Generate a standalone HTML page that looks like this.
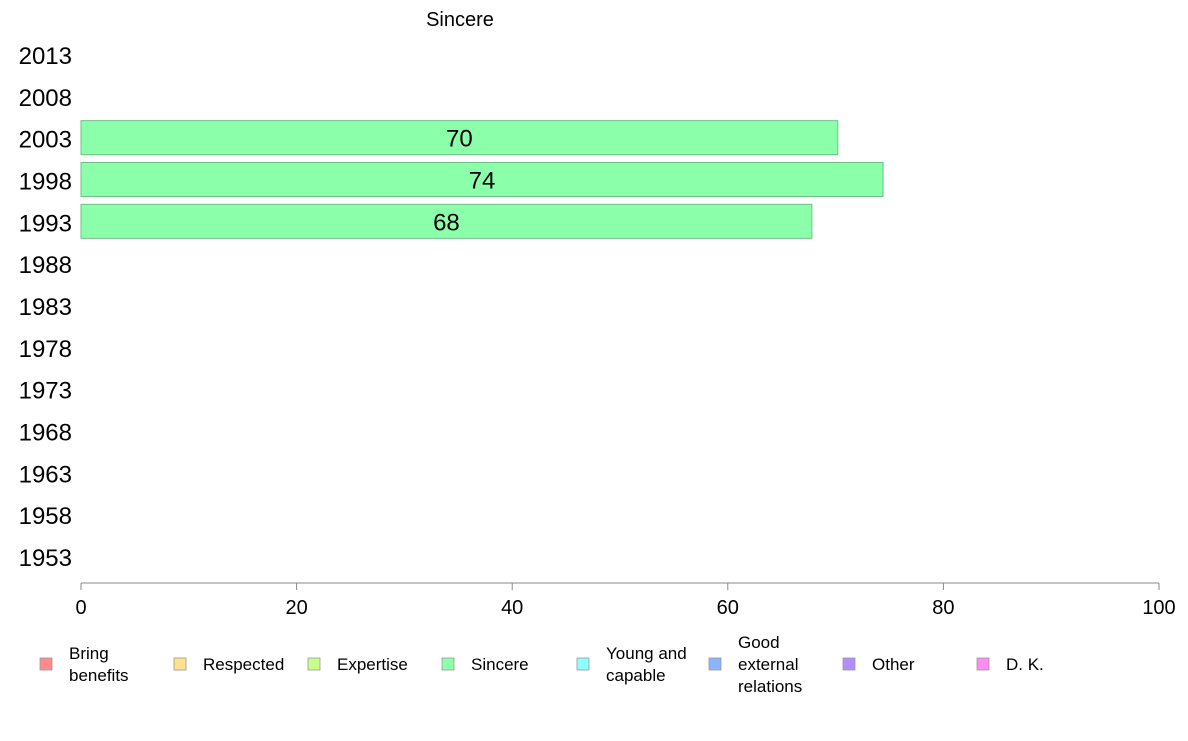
<!DOCTYPE html>
<html><head><meta charset="utf-8"><style>
body{margin:0;background:#fff;font-family:"Liberation Sans",sans-serif;}
svg text{font-family:"Liberation Sans",sans-serif;}
</style></head><body>
<svg id="c" width="1188" height="736">
<text x="460" y="26" font-size="20" text-anchor="middle">Sincere</text>
<g id="bars"></g><g id="yax"></g><g id="xax"></g><g id="leg"></g>
</svg>
<script>
const years=[2013,2008,2003,1998,1993,1988,1983,1978,1973,1968,1963,1958,1953];
const values=[null,null,70.2,74.4,67.8,null,null,null,null,null,null,null,null];
const labels=["","","70","74","68","","","","","","","",""];
const xticks=[0,20,40,60,80,100];
const legendNames=["Bring\nbenefits","Respected","Expertise","Sincere","Young and\ncapable","Good\nexternal\nrelations","Other","D. K."];
const legendColors=["#ff8c8c","#ffe08c","#c8ff8c","#8cffaa","#8cffff","#8cb4ff","#b48cff","#ff8cf0"];
const NS="http://www.w3.org/2000/svg";
function mk(t,a,p){const e=document.createElementNS(NS,t);for(const k in a)e.setAttribute(k,a[k]);p.appendChild(e);return e;}
const x=v=>81+v*(1159-81)/100;
const y=i=>55+i*41.83;
const bars=document.getElementById('bars'),yax=document.getElementById('yax'),xax=document.getElementById('xax'),leg=document.getElementById('leg');
years.forEach((yr,i)=>{
 const t=mk('text',{x:72,y:y(i)+9,'font-size':24,'text-anchor':'end'},yax);t.textContent=yr;
 
 
 if(values[i]!=null){
  const r=mk('rect',{x:x(0),y:y(i)-18,width:x(values[i])-x(0),height:34,fill:'#8cffaa',stroke:'#6fbf85','stroke-width':1},bars);
  
  
  const l=mk('text',{x:(x(0)+x(values[i]))/2,y:y(i)+8,'font-size':24,'text-anchor':'middle'},bars);l.textContent=labels[i];
  
  
 }
});
const ax=mk('line',{x1:x(0),x2:x(100),y1:583,y2:583,stroke:'#888'},xax);


xticks.forEach(v=>{
 const tk=mk('line',{x1:x(v),x2:x(v),y1:583,y2:590,stroke:'#888'},xax);
 
 
 const t=mk('text',{x:x(v),y:614,'font-size':20,'text-anchor':'middle'},xax);t.textContent=v;
 
 
});
const lx=[40,174,308,442,577,709,843,977];
legendNames.forEach((n,i)=>{
 const g=mk('g',{},leg);
 
 
 mk('rect',{x:lx[i],y:658,width:12,height:12,fill:legendColors[i],stroke:'#999','stroke-width':0.8},g);
 const lines=n.split('\n');
 const y0=664-(lines.length-1)*11+6;
 lines.forEach((s,j)=>{const t=mk('text',{x:lx[i]+29,y:y0+j*22,'font-size':17},g);t.textContent=s;});
});
</script>
</body></html>
